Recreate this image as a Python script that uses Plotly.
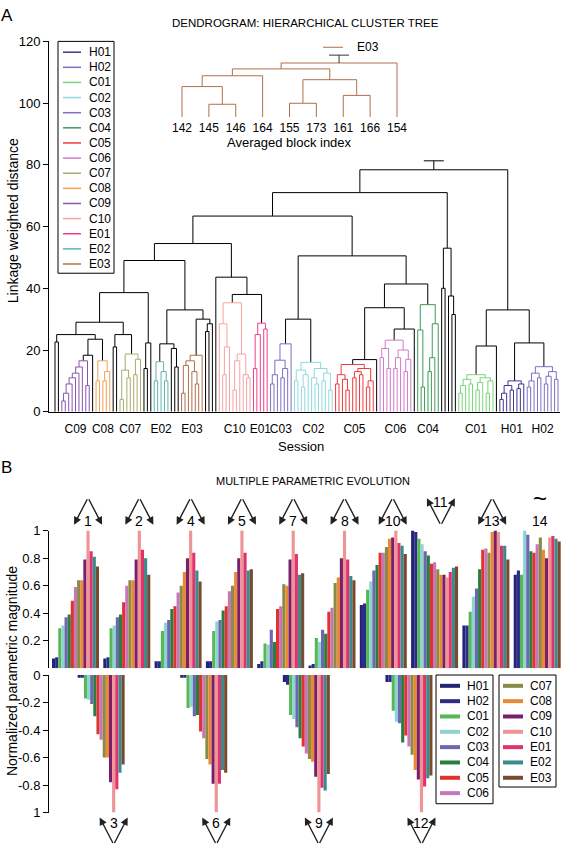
import plotly.graph_objects as go

FIG_W, FIG_H = 564, 852
FONT = "Liberation Sans, Arial, Helvetica, sans-serif"

# ---------------- data ----------------
sessions = ["H01", "H02", "C01", "C02", "C03", "C04", "C05", "C06",
            "C07", "C08", "C09", "C10", "E01", "E02", "E03"]

dendro_colors = ["#3d3590", "#7a70c0", "#7ad47a", "#8fd9dc", "#7b6fc4", "#3d9a55",
                 "#ee3a3a", "#d07acb", "#a9ab6a", "#f5a050", "#8a55b0", "#f5a3a3",
                 "#ee3d8a", "#5fb3ad", "#b0704a"]
bar_colors = ["#23237a", "#2c2c86", "#55b855", "#8ed2d2", "#6b67b0", "#2a7d3f",
              "#e0332f", "#c677b9", "#8b8b45", "#e98a32", "#7a1f6e", "#ef9494",
              "#e0336d", "#3a8c8c", "#7a4a30"]

# cluster sub-trees: [height, left, right]; "*" = leaf of that session
shape_C09 = [16.5, [14.5, [12.5, [11, [9, [6, [3.5, "*", "*"], "*"], "*"], "*"], "*"], "*"], [8.5, "*", "*"]]
shape_C08 = [16.5, [10, "*", "*"], [13, [10, "*", "*"], "*"]]
shape_C07 = [18.7, [13.5, [4, "*", "*"], [11, "*", "*"]], [17, [12, "*", "*"], "*"]]
shape_E02 = [16.2, [10, "*", "*"], [13, "*", [10, "*", "*"]]]
shape_E03 = [18.3, [16.5, [15, [6, "*", "*"], "*"], [13, "*", [9, "*", "*"]]], "*"]
shape_C10 = [35.3, [28.5, "*", [21, [12, "*", "*"], "*"]], [18.7, [16.5, [7, "*", "*"], "*"], [12, "*", [11, "*", "*"]]]]
shape_E01 = [28.7, [25, [14, "*", "*"], "*"], [26.8, "*", "*"]]
shape_C03 = [22, [16.7, [12, [9, "*", "*"], "*"], [14, [11, "*", "*"], "*"]], "*"]
shape_C02 = [16, [13.5, [10, "*", "*"], [12, [8, "*", "*"], "*"]], [14, [11, "*", [9, "*", "*"]], [12.5, [10, "*", "*"], [7, "*", "*"]]]]
shape_C05 = [15.3, [12, [9, "*", "*"], [10.5, "*", [7, "*", "*"]]], [14, [13, [11, "*", "*"], [12, "*", "*"]], [10, [8, "*", "*"], "*"]]]
shape_C06 = [23.2, [20.5, [17.5, "*", "*"], [14, "*", "*"]], [20, [17.5, [14, "*", "*"], "*"], [17, [13, "*", "*"], "*"]]]
shape_C04 = [34.7, [26.5, "*", [8, "*", "*"]], [28.5, [17.5, [13, "*", "*"], "*"], "*"]]
shape_C01 = [12, [10.5, [8.5, [6, "*", "*"], "*"], [9, "*", "*"]], [11, [9.5, [7, "*", "*"], "*"], [10, [6, "*", "*"], "*"]]]
shape_H01 = [10, [8.5, [6, [4, "*", "*"], "*"], [7, "*", "*"]], [9, [7.5, "*", "*"], "*"]]
shape_H02 = [14.6, [12.5, [10, [8, "*", "*"], "*"], [11, "*", "*"]], [13, [11.5, [9, "*", "*"], "*"], [10.5, "*", "*"]]]

# upper tree joining the session clusters ("k" = unassigned block)
upper_tree = [78.4,
              [71,
               [63.4,
                [54.5,
                 [49,
                  [38.6,
                   [29,
                    [25, [22.6, "k", "k"], [23.5, [18.3, "C09", "k"], "C08"]],
                    [25, [21, "k", "k"], "C07"]],
                   [22.3, [14, "k", "k"], "k"]],
                  [33,
                   [22, "E02", [20.5, "k", [14.5, "k", "k"]]],
                   [30, "E03", [28.5, [26, "k", "k"], "k"]]]],
                 [43.6, "k", [38, "C10", "E01"]]],
                [50.5,
                 [30, "C03", "C02"],
                 [41.4,
                  [33.7, [16.9, "C05", "k"], [26.8, "C06", "k"]],
                  "C04"]]],
               [53, [40, "k", "k"], [37.5, "k", [31.5, "k", "k"]]]],
              [33,
               [21.3, "C01", "k"],
               [22.3, "H01", "H02"]]]
root_stem_top = 81.3

# inset: E03 averaged blocks
inset_labels = ["142", "145", "146", "164", "155", "173", "161", "166", "154"]
inset_tree = [55, [49, [42, [31, "142", [13, "145", "146"]], "164"],
                   [38, [14, "155", "173"], [22, "161", "166"]]], "154"]
inset_stem_top = 63

# parametric evolution (normalized), order = sessions
param_ids = list(range(1, 15))
p01 = [0.07, 0.08, 0.29, 0.31, 0.37, 0.39, 0.49, 0.59, 0.64, 0.64, 0.79, 1.0, 0.85, 0.81, 0.74]
p02 = [0.07, 0.08, 0.29, 0.31, 0.37, 0.39, 0.48, 0.60, 0.64, 0.64, 0.79, 1.0, 0.86, 0.80, 0.68]
p03 = [-0.02, -0.02, -0.17, -0.18, -0.21, -0.30, -0.43, -0.47, -0.60, -0.60, -0.78, -1.0, -0.83, -0.71, -0.65]
p04 = [0.05, 0.05, 0.27, 0.33, 0.35, 0.43, 0.45, 0.55, 0.60, 0.70, 0.80, 1.0, 0.84, 0.71, 0.63]
p05 = [0.05, 0.05, 0.27, 0.34, 0.35, 0.42, 0.45, 0.56, 0.60, 0.70, 0.80, 1.0, 0.84, 0.71, 0.72]
p06 = [-0.02, -0.02, -0.24, -0.23, -0.30, -0.29, -0.41, -0.46, -0.61, -0.65, -0.79, -1.0, -0.79, -0.69, -0.71]
p07 = [0.03, 0.05, 0.18, 0.17, 0.28, 0.19, 0.43, 0.45, 0.61, 0.60, 0.79, 1.0, 0.83, 0.68, 0.69]
p08 = [0.02, 0.03, 0.22, 0.19, 0.28, 0.25, 0.41, 0.44, 0.62, 0.66, 0.80, 1.0, 0.79, 0.67, 0.64]
p09 = [-0.05, -0.07, -0.29, -0.32, -0.38, -0.46, -0.52, -0.57, -0.61, -0.63, -0.74, -1.0, -0.82, -0.84, -0.72]
p10 = [0.46, 0.47, 0.57, 0.63, 0.71, 0.75, 0.84, 0.84, 0.88, 0.94, 0.95, 1.0, 0.91, 0.89, 0.83]
p11 = [1.0, 0.99, 0.94, 0.90, 0.85, 0.82, 0.76, 0.77, 0.72, 0.68, 0.68, 0.66, 0.70, 0.73, 0.74]
p12 = [-0.05, -0.05, -0.26, -0.34, -0.35, -0.49, -0.44, -0.52, -0.58, -0.69, -0.76, -1.0, -0.81, -0.75, -0.73]
p13 = [0.31, 0.31, 0.41, 0.52, 0.58, 0.72, 0.86, 0.87, 0.84, 0.99, 1.0, 0.99, 0.89, 0.89, 0.79]
p14 = [0.68, 0.71, 0.68, 1.0, 0.97, 0.85, 0.84, 0.90, 0.95, 0.86, 0.80, 0.95, 0.96, 0.94, 0.92]
param_values = [p01, p02, p03, p04, p05, p06, p07, p08, p09, p10, p11, p12, p13, p14]
# trend glyph per parameter
param_glyph = ["up", "up", "down", "up", "up", "down", "up", "up", "down", "up", "vee", "down", "up", "tilde"]

# ---------------- helpers ----------------
def pxx(p):
    return p / FIG_W


def pxy(p):
    return 1 - p / FIG_H


shapes_by_name = {"C09": shape_C09, "C08": shape_C08, "C07": shape_C07, "E02": shape_E02,
                  "E03": shape_E03, "C10": shape_C10, "E01": shape_E01, "C03": shape_C03,
                  "C02": shape_C02, "C05": shape_C05, "C06": shape_C06, "C04": shape_C04,
                  "C01": shape_C01, "H01": shape_H01, "H02": shape_H02}
dcol = dict(zip(sessions, dendro_colors))
bcol = dict(zip(sessions, bar_colors))


def fill(shape, lab):
    if shape == "*":
        return lab
    return [shape[0], fill(shape[1], lab), fill(shape[2], lab)]


def expand(node):
    if isinstance(node, str):
        return fill(shapes_by_name[node], node) if node in shapes_by_name else node
    return [node[0], expand(node[1]), expand(node[2])]


def layout_tree(node, color_of):
    segs = {}
    leaves = []

    def rec(n):
        if isinstance(n, str):
            leaves.append(n)
            return float(len(leaves)), 0.0, {n}
        h, a, b = n
        xa, ha, la = rec(a)
        xb, hb, lb = rec(b)
        labs = la | lb
        col = color_of(labs)
        xs, ys = segs.setdefault(col, ([], []))
        xs += [xa, xa, xb, xb, None]
        ys += [ha, h, h, hb, None]
        return (xa + xb) / 2, h, labs

    xr, hr, _ = rec(node)
    return segs, leaves, xr, hr


fig = go.Figure()
annotations = []
shapes = []


def text(x, y, s, size=13, xanchor="center", angle=0, xref="paper"):
    annotations.append(dict(x=x, y=y, xref=xref, yref="paper", text=s, showarrow=False,
                            font=dict(size=size, family=FONT, color="black"),
                            xanchor=xanchor, yanchor="middle", textangle=angle))


# ---------------- panel A: dendrogram ----------------
full_tree = expand(upper_tree)
segs, leaves, xroot, hroot = layout_tree(
    full_tree, lambda labs: dcol[next(iter(labs))] if len(labs) == 1 and "k" not in labs else "black")
n_leaves = len(leaves)
leaf_px0, leaf_px1 = 55, 558
ax_px0, ax_px1 = 49, 560
step = (leaf_px1 - leaf_px0) / (n_leaves - 1)
x_range = [1 - (leaf_px0 - ax_px0) / step, n_leaves + (ax_px1 - leaf_px1) / step]

for col, (xs, ys) in segs.items():
    fig.add_trace(go.Scatter(x=xs, y=ys, mode="lines", line=dict(color=col, width=1),
                             xaxis="x", yaxis="y", hoverinfo="skip", showlegend=False))
cap = 10 / step
fig.add_trace(go.Scatter(x=[xroot, xroot, None, xroot - cap, xroot + cap],
                         y=[hroot, root_stem_top, None, root_stem_top, root_stem_top],
                         mode="lines", line=dict(color="black", width=1),
                         xaxis="x", yaxis="y", hoverinfo="skip", showlegend=False))

tick_vals, tick_text = [], []
for s in ["C09", "C08", "C07", "E02", "E03", "C10", "E01", "C03", "C02", "C05", "C06", "C04", "C01", "H01", "H02"]:
    pos = [i + 1 for i, l in enumerate(leaves) if l == s]
    tick_vals.append(sum(pos) / len(pos))
    tick_text.append(s)

# inset
isegs, ileaves, ixroot, ihroot = layout_tree(inset_tree, lambda labs: dcol["E03"])
ileaf_px0, ileaf_px1 = 182, 397
istep = (ileaf_px1 - ileaf_px0) / (len(ileaves) - 1)
iax0, iax1 = 168, 411
ix_range = [1 - (ileaf_px0 - iax0) / istep, len(ileaves) + (iax1 - ileaf_px1) / istep]
for col, (xs, ys) in isegs.items():
    fig.add_trace(go.Scatter(x=xs, y=ys, mode="lines", line=dict(color=col, width=1),
                             xaxis="x2", yaxis="y2", hoverinfo="skip", showlegend=False))
icap = 10 / istep
fig.add_trace(go.Scatter(x=[ixroot, ixroot, None, ixroot - icap, ixroot + icap],
                         y=[ihroot, inset_stem_top, None, inset_stem_top, inset_stem_top],
                         mode="lines", line=dict(color="#333333", width=1),
                         xaxis="x2", yaxis="y2", hoverinfo="skip", showlegend=False))
shapes.append(dict(type="line", xref="paper", yref="paper", x0=pxx(323), x1=pxx(343),
                   y0=pxy(41), y1=pxy(41), line=dict(color=dcol["E03"], width=1)))
text(pxx(355), pxy(41), "E03", size=12, xanchor="left")

# top legend
shapes.append(dict(type="rect", xref="paper", yref="paper", x0=pxx(58), x1=pxx(114),
                   y0=pxy(271), y1=pxy(35), line=dict(color="black", width=1), fillcolor="white"))
for i, s in enumerate(sessions):
    yy = 46 + i * 15.4
    shapes.append(dict(type="line", xref="paper", yref="paper", x0=pxx(63), x1=pxx(81),
                       y0=pxy(yy), y1=pxy(yy), line=dict(color=dcol[s], width=1.5)))
    text(pxx(87), pxy(yy), s, size=12, xanchor="left")

text(pxx(7), pxy(9), "A", size=17)
text(pxx(305), pxy(16), "DENDROGRAM: HIERARCHICAL CLUSTER TREE", size=11.5)
text(pxx(289), pxy(138), "Averaged block index", size=13)
text(pxx(301), pxy(447), "Session", size=13)
text(pxx(13), pxy(218), "Linkage weighted distance", size=14, angle=-90)

# ---------------- panel B: bars ----------------
slot_px = 51.3
grp_w_px = 47
bw = grp_w_px / 15 / slot_px
slots = []
last_pos = -1
for vals in param_values:
    if max(vals) > 0:
        last_pos += 1
        slots.append(float(last_pos))
    else:
        slots.append(last_pos - 0.5)

for j, s in enumerate(sessions):
    for positive, yax in ((True, "y3"), (False, "y4")):
        xs, ys = [], []
        for vals, sl in zip(param_values, slots):
            if (max(vals) > 0) == positive:
                xs.append(sl + (j - 7) * bw)
                ys.append(vals[j])
        fig.add_trace(go.Bar(x=xs, y=ys, width=bw, marker=dict(color=bcol[s], line=dict(width=0)),
                             xaxis="x3", yaxis=yax, hoverinfo="skip", showlegend=False))

# glyphs above/below groups
anchor_idx = {10: 10, 11: 9, 13: 9, 14: 8}
dx = 14 / slot_px


def arrow(xd, ypx, ax, ay):
    annotations.append(dict(x=xd, y=pxy(ypx), xref="x3", yref="paper", ax=ax, ay=ay,
                            axref="pixel", ayref="pixel", text="", showarrow=True,
                            arrowhead=2, arrowsize=1.1, arrowwidth=1.4, arrowcolor="#222222"))


for pid, sl, g in zip(param_ids, slots, param_glyph):
    cx = sl + (anchor_idx.get(pid, 11) - 7) * bw
    if g == "up":
        arrow(cx - dx, 527, 14, -27)
        arrow(cx + dx, 527, -14, -27)
        text(cx, pxy(523), str(pid), size=14, xref="x3")
    elif g == "vee":
        arrow(cx - dx, 500, 14, 27)
        arrow(cx + dx, 500, -14, 27)
        text(cx, pxy(504), str(pid), size=14, xref="x3")
    elif g == "tilde":
        text(cx, pxy(500), "~", size=24, xref="x3")
        text(cx, pxy(523), str(pid), size=14, xref="x3")
    else:
        arrow(cx - dx, 825, 14, 27)
        arrow(cx + dx, 825, -14, 27)
        text(cx, pxy(831), str(pid), size=14, xref="x3")

text(pxx(6), pxy(469), "B", size=17)
text(pxx(313), pxy(482), "MULTIPLE PARAMETRIC EVOLUTION", size=11)
text(pxx(12), pxy(676), "Normalized parametric magnitude", size=14, angle=-90)

# bottom legends
for col0, (bx0, bx1, by1), names in ((0, (436, 493, 811), sessions[:8]),
                                      (1, (499, 556, 794), sessions[8:])):
    shapes.append(dict(type="rect", xref="paper", yref="paper", x0=pxx(bx0), x1=pxx(bx1),
                       y0=pxy(by1), y1=pxy(680), line=dict(color="black", width=1), fillcolor="white"))
    for i, s in enumerate(names):
        yy = 691 + i * 15.6
        shapes.append(dict(type="line", xref="paper", yref="paper", x0=pxx(bx0 + 4), x1=pxx(bx0 + 24),
                           y0=pxy(yy), y1=pxy(yy), line=dict(color=bcol[s], width=4)))
        text(pxx(bx0 + 29), pxy(yy), s, size=12, xanchor="left")

# ---------------- layout ----------------
axis_common = dict(showgrid=False, zeroline=False, fixedrange=True,
                   tickfont=dict(size=13, family=FONT, color="black"))
fig.update_layout(
    width=FIG_W, height=FIG_H, autosize=False,
    margin=dict(l=0, r=0, t=0, b=0),
    paper_bgcolor="white", plot_bgcolor="rgba(0,0,0,0)",
    barmode="overlay", showlegend=False,
    font=dict(family=FONT, color="black"),
    xaxis=dict(domain=[pxx(ax_px0), pxx(ax_px1)], range=x_range, anchor="y",
               showline=True, linecolor="black", linewidth=1, ticks="", tickangle=0,
               tickmode="array", tickvals=tick_vals, ticktext=tick_text,
               ticklabelstandoff=6, **{**axis_common, "tickfont": dict(size=12, family=FONT, color="black")}),
    yaxis=dict(domain=[pxy(412), pxy(35)], range=[0, 120], anchor="x",
               showline=True, linecolor="black", linewidth=1, ticks="outside", ticklen=5,
               tickcolor="black", tickmode="array", tickvals=[0, 20, 40, 60, 80, 100, 120],
               **axis_common),
    xaxis2=dict(domain=[pxx(iax0), pxx(iax1)], range=ix_range, anchor="y2", showline=False,
                ticks="", tickangle=0, tickmode="array", tickvals=list(range(1, len(ileaves) + 1)),
                ticktext=ileaves, ticklabelstandoff=2,
                **{**axis_common, "tickfont": dict(size=12, family=FONT, color="black")}),
    yaxis2=dict(domain=[pxy(112), pxy(40)], range=[0, 72], anchor="x2", visible=False, fixedrange=True),
    xaxis3=dict(domain=[pxx(49), pxx(562)], range=[(49 - 75.5) / slot_px, (562 - 75.5) / slot_px],
                anchor="y4", visible=False, fixedrange=True),
    yaxis3=dict(domain=[pxy(673), pxy(533)], range=[0, 1], anchor="x3",
                showline=True, linecolor="black", linewidth=1, ticks="outside", ticklen=5,
                tickcolor="black", tickmode="array", tickvals=[0.2, 0.4, 0.6, 0.8, 1],
                ticktext=["0.2", "0.4", "0.6", "0.8", "1"], **axis_common),
    yaxis4=dict(domain=[pxy(820), pxy(680)], range=[-1, 0], anchor="x3",
                showline=True, linecolor="black", linewidth=1, ticks="outside", ticklen=5,
                tickcolor="black", tickmode="array", tickvals=[0, -0.2, -0.4, -0.6, -0.8, -1],
                ticktext=["0", "-0.2", "-0.4", "-0.6", "-0.8", "1"], **axis_common),
    annotations=annotations,
    shapes=shapes,
)

fig.write_html("out.html", config={"displayModeBar": False, "staticPlot": True},
               post_script="document.body.style.margin='0px';document.body.style.overflow='hidden';")
